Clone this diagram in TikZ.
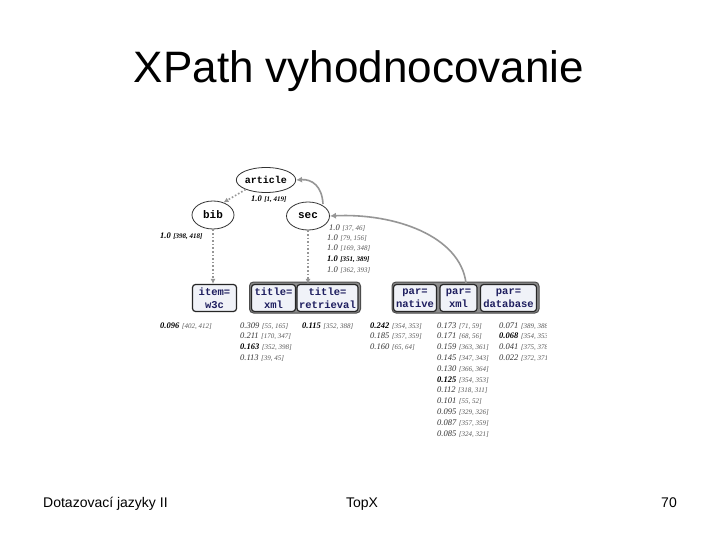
\documentclass[tikz,border=0pt]{standalone}
\usepackage{fontspec}
\setmainfont{Liberation Sans}
\newfontfamily\serifit{Liberation Serif}
\newfontfamily\monof{Liberation Mono}
\usetikzlibrary{shapes.geometric,arrows.meta}
\definecolor{boxfill}{RGB}{240,242,248}
\definecolor{boxtext}{RGB}{30,30,95}
\definecolor{groupfill}{RGB}{140,140,140}
\definecolor{arrowgray}{RGB}{150,150,150}
\newcommand\numf{\fontsize{8.5}{10}\selectfont\itshape}
\newcommand\intf{\fontsize{7}{8}\selectfont\itshape}
\newcommand\svn[2]{{\numf #1}\ {\intf\color{black!65}[#2]}}
\newcommand\svh[2]{{\numf\bfseries\color{black} #1}\ {\intf\color{black!65}[#2]}}
\newcommand\svb[2]{{\numf\bfseries\color{black} #1}\ {\intf\bfseries\color{black} [#2]}}
\tikzset{
  ell/.style={ellipse, draw=black!80, line width=0.8pt, fill=white, inner sep=0pt,
    font=\monof\bfseries\fontsize{11}{12}\selectfont},
  tagbox/.style={draw=black!85, line width=1.2pt, rounded corners=3pt, fill=boxfill,
    text=boxtext, font=\monof\bfseries\fontsize{10.5}{13}\selectfont, align=center,
    inner sep=0pt, minimum height=27pt},
  groupbox/.style={draw=black!70, line width=1pt, rounded corners=4pt, fill=groupfill},
  score/.style={anchor=base west, inner sep=0pt, font=\serifit, text=black!80},
  dotarrow/.style={draw=arrowgray, line width=1.6pt, dotted, -{Latex[length=5pt,width=5pt]}},
  solidarrow/.style={draw=arrowgray, line width=1.6pt, -{Latex[length=6pt,width=6pt]}}
}
\begin{document}
\begin{tikzpicture}[x=1pt,y=-1pt]
\useasboundingbox (0,0) rectangle (720,540);
\fill[white] (0,0) rectangle (720,540);

% title and footer
\node[anchor=base, inner sep=0pt, font=\fontsize{44}{50}\selectfont] (title) at (359,83) {XPath vyhodnocovanie};
\node[anchor=base west, inner sep=0pt, font=\fontsize{14}{16}\selectfont] (foot1) at (43,507) {Dotazovací jazyky II};
\node[anchor=base, inner sep=0pt, font=\fontsize{14}{16}\selectfont] (foot2) at (362,507) {TopX};
\node[anchor=base east, inner sep=0pt, font=\fontsize{14}{16}\selectfont] (foot3) at (677,507) {70};

% ellipses
\node[ell, minimum width=50pt, minimum height=25pt, font=\monof\bfseries\fontsize{10}{12}\selectfont] (article) at (266,180) {article};
\node[ell, minimum width=42pt, minimum height=28pt] (bib) at (213,215) {bib};
\node[ell, minimum width=43pt, minimum height=28pt] (sec) at (308,216) {sec};

% groups
\node[groupbox, minimum width=111pt, minimum height=31pt] (g1) at (305,297.5) {};
\node[groupbox, minimum width=147pt, minimum height=31pt] (g2) at (465.5,297.5) {};

% boxes
\node[tagbox, minimum width=44pt] (item) at (214.5,298) {item=\\w3c};
\node[tagbox, minimum width=44pt] (txml) at (273.5,298) {title=\\xml};
\node[tagbox, minimum width=61pt] (tret) at (327.5,298) {title=\\retrieval};
\node[tagbox, minimum width=43pt] (pnat) at (415,298) {par=\\native};
\node[tagbox, minimum width=37pt] (pxml) at (458.5,298) {par=\\xml};
\node[tagbox, minimum width=56pt] (pdb) at (508.5,298) {par=\\database};

% connectors
\draw[dotarrow] (article.205) -- (bib.50);
\draw[dotarrow] (bib.south) -- (bib.south |- item.north);
\draw[dotarrow] (sec.south) -- (sec.south |- tret.north);
\coordinate (secstart) at (323,204);
\draw[solidarrow] (secstart) .. controls (322,186) and (312,179) .. (article.east);
\coordinate (pxstart) at (466,283);
\draw[solidarrow] (pxstart) .. controls (460,236) and (395,213) .. (sec.east);

% scores of inner nodes
\node[score] (sart) at (251,202) {\svb{1.0}{1, 419}};
\node[score] (sbib) at (160,239) {\svb{1.0}{398, 418}};
\node[score] (ssec0) at (329,230) {\svn{1.0}{37, 46}};
\node[score] (ssec1) at (327,240.5) {\svn{1.0}{79, 156}};
\node[score] (ssec2) at (327,251) {\svn{1.0}{169, 348}};
\node[score] (ssec3) at (327,261.5) {\svb{1.0}{351, 389}};
\node[score] (ssec4) at (327,272) {\svn{1.0}{362, 393}};

% scores of leaves
\node[score] (sitem) at (160,328) {\svh{0.096}{402, 412}};

\foreach \t [count=\i from 0] in {{\svn{0.309}{55, 165}},{\svn{0.211}{170, 347}},{\svh{0.163}{352, 398}},{\svn{0.113}{39, 45}}}
  \node[score] (stxml\i) at (240,{328+10.8*\i}) {\t};

\node[score] (stret) at (302,328) {\svh{0.115}{352, 388}};

\foreach \t [count=\i from 0] in {{\svh{0.242}{354, 353}},{\svn{0.185}{357, 359}},{\svn{0.160}{65, 64}}}
  \node[score] (spnat\i) at (370,{328+10.8*\i}) {\t};

\foreach \t [count=\i from 0] in {{\svn{0.173}{71, 59}},{\svn{0.171}{68, 56}},{\svn{0.159}{363, 361}},{\svn{0.145}{347, 343}},{\svn{0.130}{366, 364}},{\svh{0.125}{354, 353}},{\svn{0.112}{318, 311}},{\svn{0.101}{55, 52}},{\svn{0.095}{329, 326}},{\svn{0.087}{357, 359}},{\svn{0.085}{324, 321}}}
  \node[score] (spxml\i) at (437,{328+10.8*\i}) {\t};

\begin{scope}
\clip (0,300) rectangle (546,380);
\foreach \t [count=\i from 0] in {{\svn{0.071}{389, 388}},{\svh{0.068}{354, 353}},{\svn{0.041}{375, 378}},{\svn{0.022}{372, 371}}}
  \node[score] (spdb\i) at (499,{328+10.8*\i}) {\t};
\end{scope}
\end{tikzpicture}
\end{document}
